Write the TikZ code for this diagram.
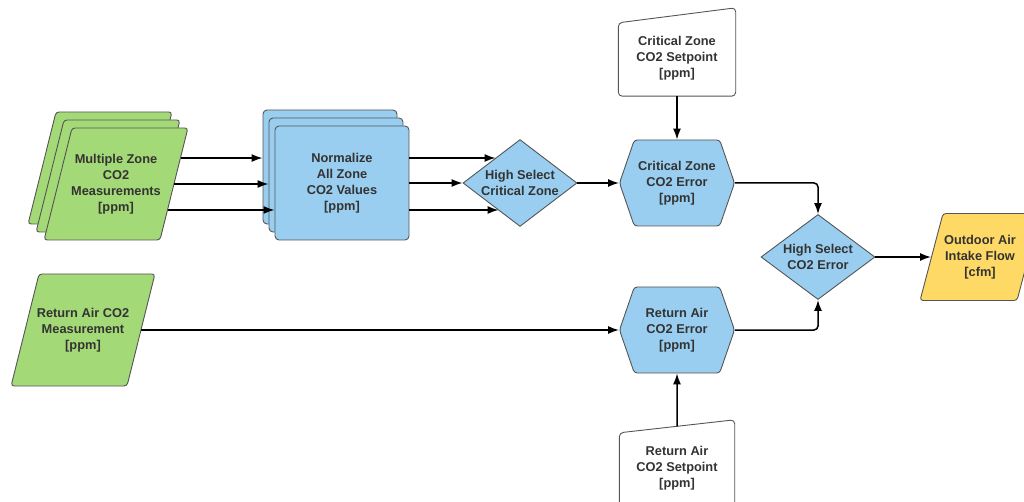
\documentclass[tikz,border=0pt]{standalone}
\usepackage{fontspec}
\setmainfont{Liberation Sans}
\usetikzlibrary{shapes.geometric,shapes.symbols,arrows.meta,calc}

\definecolor{zonegreen}{RGB}{164,217,119}
\definecolor{procblue}{RGB}{153,206,240}
\definecolor{outyellow}{RGB}{255,217,102}
\definecolor{edgegray}{RGB}{85,85,85}
\definecolor{textgray}{RGB}{51,51,51}

\tikzset{
  lbl/.style={font=\bfseries\fontsize{12.8}{16}\selectfont, text=textgray, align=center},
  box/.style={lbl, draw=edgegray, line width=0.9pt},
  % parallelograms are sized by inner sep only, the text goes in a centre label
  inbox/.style={box, trapezium, trapezium left angle=76, trapezium right angle=104,
    fill=zonegreen, rounded corners=3pt, inner xsep=44pt, inner ysep=56pt},
  outbox/.style={box, trapezium, trapezium left angle=75.2, trapezium right angle=104.8,
    fill=outyellow, rounded corners=3pt, inner xsep=37pt, inner ysep=43.5pt},
  normbox/.style={box, rectangle, fill=procblue, rounded corners=4pt,
    minimum width=134pt, minimum height=114pt},
  selbox/.style={box, diamond, fill=procblue, minimum width=114pt,
    minimum height=85pt, inner sep=-4pt},
  errbox/.style={box, signal, signal to=east and west, signal pointer angle=142,
    fill=procblue, rounded corners=3pt, minimum width=115pt, minimum height=86pt},
  spbox/.style={lbl, minimum height=76pt},
  spedge/.style={draw=edgegray, line width=0.9pt, rounded corners=4pt},
  arr/.style={-{Latex[length=11pt,width=8pt]}, line width=1.5pt},
}

\begin{document}
\begin{tikzpicture}[x=1pt, y=-1pt]
  \useasboundingbox (0,0) rectangle (1024,502);
  \clip (0,0) rectangle (1024,502);

  % --- zone measurements and normalize block (stacked sheets, back first) ---
  \foreach \i/\d in {3/16, 2/8}{
    \node[inbox] (zone\i) at (116-\d,184-\d) {};
    \node[normbox] (norm\i) at (342-0.75*\d,183-\d) {\strut};
  }
  \node[inbox, label={[lbl]center:Multiple Zone\\CO2\\Measurements\\{[ppm]}}]
    (zone1) at (116,184) {};
  \node[normbox] (norm1) at (342,183) {Normalize\\All Zone\\CO2 Values\\{[ppm]}};

  % --- selects and errors ---
  \node[selbox] (hsel) at (520,183) {High Select\\Critical Zone};
  \node[errbox] (crit) at (677,183) {Critical Zone\\CO2 Error\\{[ppm]}};
  \node[errbox] (reterr) at (677,330) {Return Air\\CO2 Error\\{[ppm]}};
  \node[selbox] (hsel2) at (818,257) {High Select\\CO2 Error};
  \node[outbox, label={[lbl]center:Outdoor Air\\Intake Flow\\{[cfm]}}]
    (outair) at (980,257) {};
  \node[inbox, label={[lbl]center:Return Air CO2\\Measurement\\{[ppm]}}]
    (retm) at (83,330) {};

  % --- setpoints: manual input outline drawn round the text ---
  \node[spbox, minimum width=117pt] (critsp) at (677,58) {Critical Zone\\CO2 Setpoint\\{[ppm]}};
  \draw[spedge] (critsp.south west) -- ([yshift=-3pt]critsp.north west)
    -- ([yshift=12pt]critsp.north east) -- (critsp.south east) -- cycle;
  \node[spbox, minimum width=115pt] (retsp) at (677,468) {Return Air\\CO2 Setpoint\\{[ppm]}};
  \draw[spedge] (retsp.south west) -- ([yshift=-3pt]retsp.north west)
    -- ([yshift=10pt]retsp.north east) -- (retsp.south east) -- cycle;
  \coordinate (retspt) at ($([yshift=-3pt]retsp.north west)!0.5!([yshift=10pt]retsp.north east)$);

  % --- connectors ---
  \foreach \f/\n in {0.27/3, 0.5/2, 0.73/1}{
    \coordinate (zo\n) at ($(zone1.top right corner)!\f!(zone1.bottom right corner)$);
    \draw[arr] (zo\n) -- (zo\n -| norm\n.west);
  }
  % feeds into the first select land on its sloping sides
  \coordinate (hs1) at ($(hsel.west)+(33,-25)$);
  \coordinate (hs2) at (hsel.west);
  \coordinate (hs3) at ($(hsel.west)+(36,27)$);
  \foreach \n in {1,2,3}
    \draw[arr] (norm1.east |- hs\n) -- (hs\n);
  \draw[arr] (hsel.east) -- (crit.west);
  \draw[arr] (critsp.south) -- (crit.north);
  \draw[arr, rounded corners=4pt] (crit.east) -| (hsel2.north);
  \draw[arr] (retm.east) -- (reterr.west);
  \draw[arr] (retspt) -- (reterr.south);
  \draw[arr, rounded corners=4pt] (reterr.east) -| (hsel2.south);
  \draw[arr] (hsel2.east) -- (outair.west);
\end{tikzpicture}
\end{document}
